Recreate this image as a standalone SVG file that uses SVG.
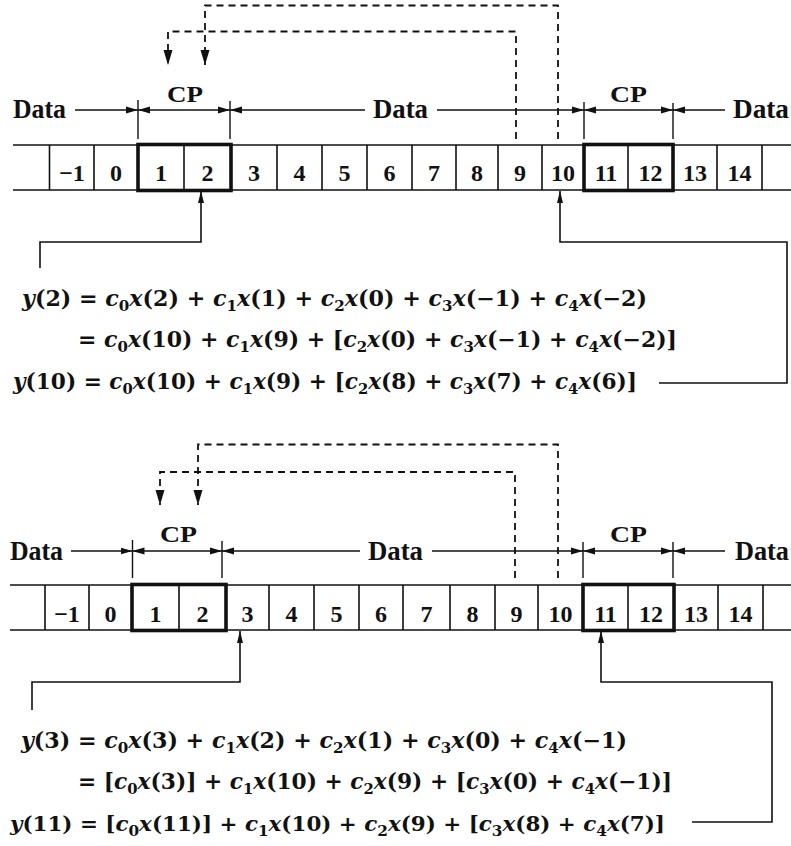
<svg xmlns="http://www.w3.org/2000/svg" width="791" height="846" viewBox="0 0 791 846">
  <style>
    .ln { stroke:#111; stroke-width:1.6; fill:none; }
    .thick { stroke:#111; stroke-width:3.6; fill:none; }
    .dash { stroke:#111; stroke-width:1.8; fill:none; stroke-dasharray:7 5; }
    .dim { stroke:#111; stroke-width:1.4; fill:none; }
    .lbl { font-family:"Liberation Serif","Times New Roman",serif; font-weight:bold; font-size:27px; fill:#111; }
    .cp { font-family:"Liberation Serif","Times New Roman",serif; font-weight:bold; font-size:24px; fill:#111; }
    .cell { font-family:"Liberation Serif","Times New Roman",serif; font-weight:bold; font-size:24px; fill:#111; text-anchor:middle; }
    .eq { font-family:"DejaVu Serif","Liberation Serif",serif; font-weight:bold; font-size:22px; fill:#111; }
    .eq.tight { font-size:21px; }
    .i { font-style:italic; }
    .sb { font-size:15px; }
  </style>
  <defs>
    <marker id="ah" viewBox="0 -4 12 8" markerWidth="12" markerHeight="8" refX="12" refY="0" markerUnits="userSpaceOnUse" orient="auto-start-reverse">
      <path d="M0,-3.5 L12,0 L0,3.5 Z" fill="#111"/>
    </marker>
    <marker id="dh" viewBox="0 -5 15 10" markerWidth="15" markerHeight="10" refX="15" refY="0" markerUnits="userSpaceOnUse" orient="auto-start-reverse">
      <path d="M0,-4.5 L15,0 L0,4.5 Z" fill="#111"/>
    </marker>
    <marker id="sh" viewBox="0 -4 12 8" markerWidth="12" markerHeight="8" refX="12" refY="0" markerUnits="userSpaceOnUse" orient="auto-start-reverse">
      <path d="M0,-3 L12,0 L0,3 Z" fill="#111"/>
    </marker>
  </defs>

  <!-- ===== upper frame ===== -->
  <g id="row-top">
    <line class="ln" x1="13" y1="145" x2="791" y2="145"/>
    <line class="ln" x1="13" y1="190" x2="791" y2="190"/>
    <path class="ln" d="M49.5,145V190 M94,145V190 M184,145V190 M277,145V190 M322,145V190 M367,145V190 M412,145V190 M456,145V190 M498,145V190 M542,145V190 M628,145V190 M717,145V190 M762,145V190"/>
    <rect class="thick" x="138" y="144.5" width="93" height="46"/>
    <rect class="thick" x="584" y="144.5" width="89" height="46"/>
    <text class="cell" x="72" y="181">−1</text>
    <text class="cell" x="116" y="181">0</text>
    <text class="cell" x="161" y="181">1</text>
    <text class="cell" x="207.5" y="181">2</text>
    <text class="cell" x="254" y="181">3</text>
    <text class="cell" x="299.5" y="181">4</text>
    <text class="cell" x="344.5" y="181">5</text>
    <text class="cell" x="389.5" y="181">6</text>
    <text class="cell" x="434" y="181">7</text>
    <text class="cell" x="477" y="181">8</text>
    <text class="cell" x="520" y="181">9</text>
    <text class="cell" x="563" y="181">10</text>
    <text class="cell" x="606" y="181">11</text>
    <text class="cell" x="650.5" y="181">12</text>
    <text class="cell" x="695" y="181">13</text>
    <text class="cell" x="739.5" y="181">14</text>
  </g>

  <g id="spans-top">
    <text class="lbl" x="13" y="118" textLength="53" lengthAdjust="spacingAndGlyphs">Data</text>
    <text class="lbl" x="373" y="118" textLength="55" lengthAdjust="spacingAndGlyphs">Data</text>
    <text class="lbl" x="733" y="118" textLength="56" lengthAdjust="spacingAndGlyphs">Data</text>
    <text class="cp" x="167" y="102" textLength="36" lengthAdjust="spacingAndGlyphs">CP</text>
    <text class="cp" x="610" y="102" textLength="37" lengthAdjust="spacingAndGlyphs">CP</text>
    <path class="dim" d="M138,100V139 M230,101V139 M584,102V139 M673,103V139"/>
    <line class="dim" x1="75" y1="110" x2="138" y2="110" marker-end="url(#ah)"/>
    <line class="dim" x1="138" y1="110" x2="230" y2="110" marker-start="url(#ah)" marker-end="url(#ah)"/>
    <line class="dim" x1="230" y1="110" x2="365" y2="110" marker-start="url(#ah)"/>
    <line class="dim" x1="437" y1="110" x2="584" y2="110" marker-end="url(#ah)"/>
    <line class="dim" x1="584" y1="110" x2="673" y2="110" marker-start="url(#ah)" marker-end="url(#ah)"/>
    <line class="dim" x1="673" y1="110" x2="725" y2="110" marker-start="url(#ah)"/>
  </g>

  <g id="connectors-top">
    <path class="dash" d="M558,139V5.5H205V65" marker-end="url(#dh)"/>
    <path class="dash" d="M516,139V31.5H168V65" marker-end="url(#dh)"/>
    <path class="ln" d="M201,191V242H40V268" marker-start="url(#sh)"/>
    <path class="ln" d="M560,191V242H787V383H659" marker-start="url(#sh)"/>
  </g>

  <g id="equations-top">
    <text class="eq" x="22" y="306" textLength="625" lengthAdjust="spacingAndGlyphs"><tspan class="i">y</tspan>(2) = <tspan class="i">c</tspan><tspan class="sb" dy="5">0</tspan><tspan class="i" dy="-5">x</tspan>(2) + <tspan class="i">c</tspan><tspan class="sb" dy="5">1</tspan><tspan class="i" dy="-5">x</tspan>(1) + <tspan class="i">c</tspan><tspan class="sb" dy="5">2</tspan><tspan class="i" dy="-5">x</tspan>(0) + <tspan class="i">c</tspan><tspan class="sb" dy="5">3</tspan><tspan class="i" dy="-5">x</tspan>(−1) + <tspan class="i">c</tspan><tspan class="sb" dy="5">4</tspan><tspan class="i" dy="-5">x</tspan>(−2)</text>
    <text class="eq" x="78" y="347" textLength="599" lengthAdjust="spacingAndGlyphs">= <tspan class="i">c</tspan><tspan class="sb" dy="5">0</tspan><tspan class="i" dy="-5">x</tspan>(10) + <tspan class="i">c</tspan><tspan class="sb" dy="5">1</tspan><tspan class="i" dy="-5">x</tspan>(9) + [<tspan class="i">c</tspan><tspan class="sb" dy="5">2</tspan><tspan class="i" dy="-5">x</tspan>(0) + <tspan class="i">c</tspan><tspan class="sb" dy="5">3</tspan><tspan class="i" dy="-5">x</tspan>(−1) + <tspan class="i">c</tspan><tspan class="sb" dy="5">4</tspan><tspan class="i" dy="-5">x</tspan>(−2)]</text>
    <text class="eq" x="13" y="389" textLength="624" lengthAdjust="spacingAndGlyphs"><tspan class="i">y</tspan>(10) = <tspan class="i">c</tspan><tspan class="sb" dy="5">0</tspan><tspan class="i" dy="-5">x</tspan>(10) + <tspan class="i">c</tspan><tspan class="sb" dy="5">1</tspan><tspan class="i" dy="-5">x</tspan>(9) + [<tspan class="i">c</tspan><tspan class="sb" dy="5">2</tspan><tspan class="i" dy="-5">x</tspan>(8) + <tspan class="i">c</tspan><tspan class="sb" dy="5">3</tspan><tspan class="i" dy="-5">x</tspan>(7) + <tspan class="i">c</tspan><tspan class="sb" dy="5">4</tspan><tspan class="i" dy="-5">x</tspan>(6)]</text>
  </g>

  <!-- ===== lower frame ===== -->
  <g id="row-bottom">
    <line class="ln" x1="10" y1="585" x2="791" y2="585"/>
    <line class="ln" x1="10" y1="630" x2="791" y2="630"/>
    <path class="ln" d="M45,585V630 M89,585V630 M179,585V630 M269,585V630 M314,585V630 M359,585V630 M403,585V630 M450,585V630 M495,585V630 M538,585V630 M628,585V630 M718,585V630 M763,585V630"/>
    <rect class="thick" x="132" y="584.5" width="94" height="46"/>
    <rect class="thick" x="583" y="584.5" width="91" height="46"/>
    <text class="cell" x="67" y="622">−1</text>
    <text class="cell" x="110.5" y="622">0</text>
    <text class="cell" x="155.5" y="622">1</text>
    <text class="cell" x="202.5" y="622">2</text>
    <text class="cell" x="247.5" y="622">3</text>
    <text class="cell" x="291.5" y="622">4</text>
    <text class="cell" x="336.5" y="622">5</text>
    <text class="cell" x="381" y="622">6</text>
    <text class="cell" x="426.5" y="622">7</text>
    <text class="cell" x="472.5" y="622">8</text>
    <text class="cell" x="516.5" y="622">9</text>
    <text class="cell" x="560.5" y="622">10</text>
    <text class="cell" x="605.5" y="622">11</text>
    <text class="cell" x="651" y="622">12</text>
    <text class="cell" x="696" y="622">13</text>
    <text class="cell" x="740.5" y="622">14</text>
  </g>

  <g id="spans-bottom">
    <text class="lbl" x="10" y="560" textLength="53" lengthAdjust="spacingAndGlyphs">Data</text>
    <text class="lbl" x="368" y="560" textLength="55" lengthAdjust="spacingAndGlyphs">Data</text>
    <text class="lbl" x="735" y="560" textLength="54" lengthAdjust="spacingAndGlyphs">Data</text>
    <text class="cp" x="160" y="542" textLength="37" lengthAdjust="spacingAndGlyphs">CP</text>
    <text class="cp" x="610" y="542" textLength="37" lengthAdjust="spacingAndGlyphs">CP</text>
    <path class="dim" d="M132.5,540V578 M222,541V578 M583,542V578 M673,542V578"/>
    <line class="dim" x1="71" y1="551" x2="132.5" y2="551" marker-end="url(#ah)"/>
    <line class="dim" x1="132.5" y1="551" x2="222" y2="551" marker-start="url(#ah)" marker-end="url(#ah)"/>
    <line class="dim" x1="222" y1="551" x2="360" y2="551" marker-start="url(#ah)"/>
    <line class="dim" x1="432" y1="551" x2="583" y2="551" marker-end="url(#ah)"/>
    <line class="dim" x1="583" y1="551" x2="673" y2="551" marker-start="url(#ah)" marker-end="url(#ah)"/>
    <line class="dim" x1="673" y1="551" x2="725" y2="551" marker-start="url(#ah)"/>
  </g>

  <g id="connectors-bottom">
    <path class="dash" d="M558,578V444.5H198V505" marker-end="url(#dh)"/>
    <path class="dash" d="M515,578V472H160V505" marker-end="url(#dh)"/>
    <path class="ln" d="M240,631V682H32V710" marker-start="url(#sh)"/>
    <path class="ln" d="M601,631V682H772V822H692" marker-start="url(#sh)"/>
  </g>

  <g id="equations-bottom">
    <text class="eq" x="21" y="748" textLength="606" lengthAdjust="spacingAndGlyphs"><tspan class="i">y</tspan>(3) = <tspan class="i">c</tspan><tspan class="sb" dy="5">0</tspan><tspan class="i" dy="-5">x</tspan>(3) + <tspan class="i">c</tspan><tspan class="sb" dy="5">1</tspan><tspan class="i" dy="-5">x</tspan>(2) + <tspan class="i">c</tspan><tspan class="sb" dy="5">2</tspan><tspan class="i" dy="-5">x</tspan>(1) + <tspan class="i">c</tspan><tspan class="sb" dy="5">3</tspan><tspan class="i" dy="-5">x</tspan>(0) + <tspan class="i">c</tspan><tspan class="sb" dy="5">4</tspan><tspan class="i" dy="-5">x</tspan>(−1)</text>
    <text class="eq" x="78" y="789" textLength="594" lengthAdjust="spacingAndGlyphs">= [<tspan class="i">c</tspan><tspan class="sb" dy="5">0</tspan><tspan class="i" dy="-5">x</tspan>(3)] + <tspan class="i">c</tspan><tspan class="sb" dy="5">1</tspan><tspan class="i" dy="-5">x</tspan>(10) + <tspan class="i">c</tspan><tspan class="sb" dy="5">2</tspan><tspan class="i" dy="-5">x</tspan>(9) + [<tspan class="i">c</tspan><tspan class="sb" dy="5">3</tspan><tspan class="i" dy="-5">x</tspan>(0) + <tspan class="i">c</tspan><tspan class="sb" dy="5">4</tspan><tspan class="i" dy="-5">x</tspan>(−1)]</text>
    <text class="eq tight" x="10" y="831" textLength="655" lengthAdjust="spacingAndGlyphs"><tspan class="i">y</tspan>(11) = [<tspan class="i">c</tspan><tspan class="sb" dy="5">0</tspan><tspan class="i" dy="-5">x</tspan>(11)] + <tspan class="i">c</tspan><tspan class="sb" dy="5">1</tspan><tspan class="i" dy="-5">x</tspan>(10) + <tspan class="i">c</tspan><tspan class="sb" dy="5">2</tspan><tspan class="i" dy="-5">x</tspan>(9) + [<tspan class="i">c</tspan><tspan class="sb" dy="5">3</tspan><tspan class="i" dy="-5">x</tspan>(8) + <tspan class="i">c</tspan><tspan class="sb" dy="5">4</tspan><tspan class="i" dy="-5">x</tspan>(7)]</text>
  </g>
</svg>
